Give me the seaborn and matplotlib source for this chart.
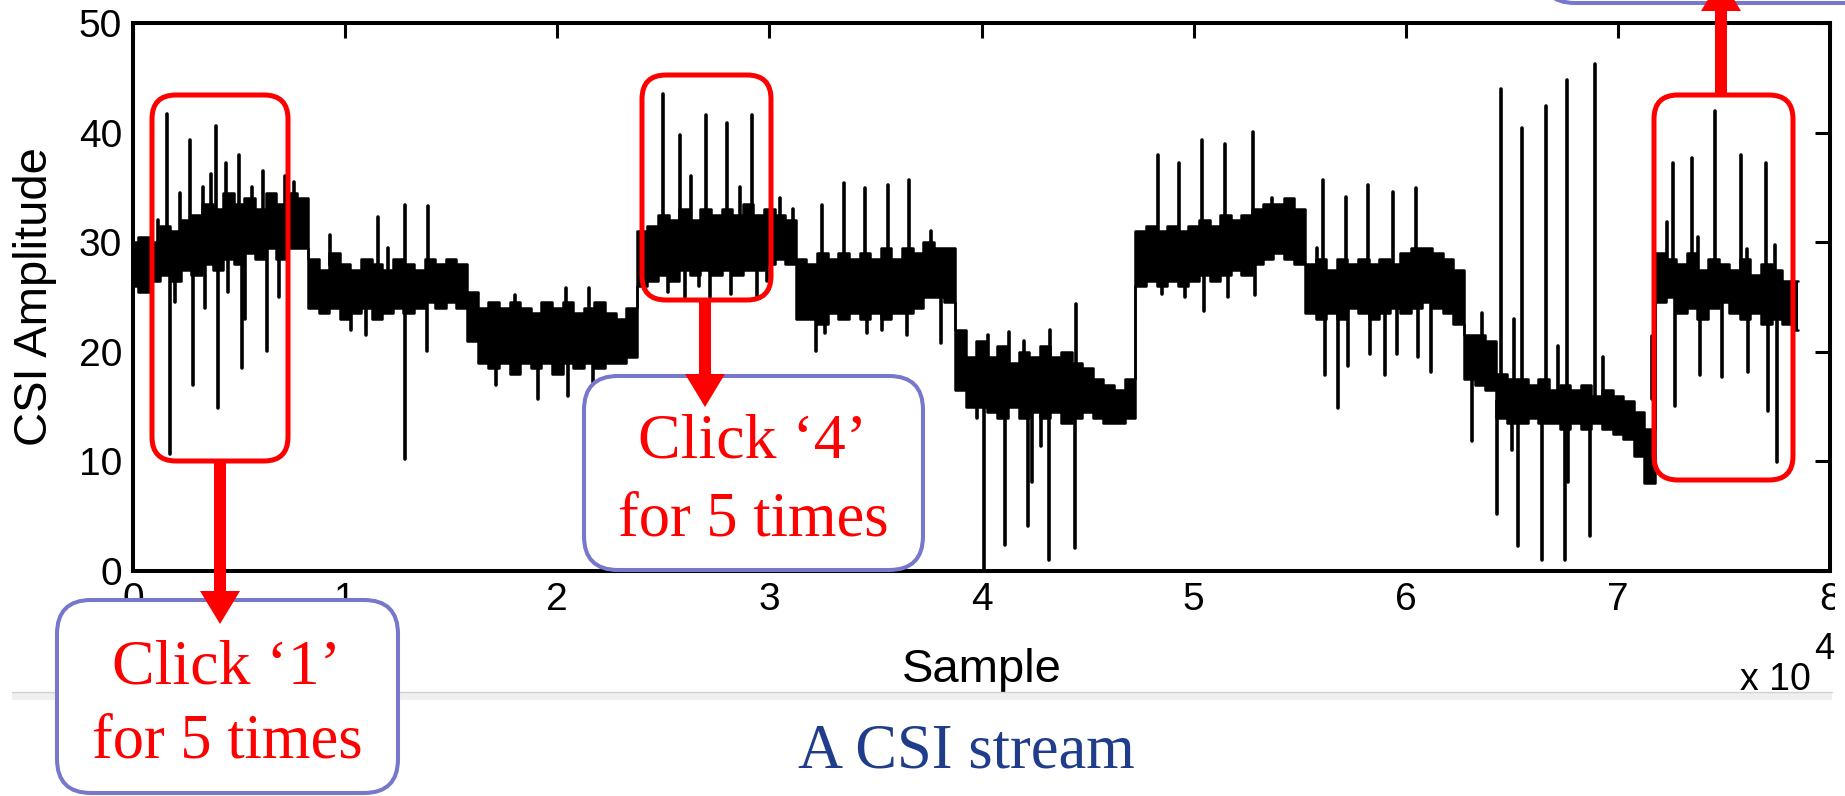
import numpy as np
import pandas as pd
import matplotlib
matplotlib.use("Agg")
import matplotlib.pyplot as plt
import seaborn as sns
from matplotlib.patches import FancyBboxPatch, FancyArrow, Rectangle

# ---------------- data ----------------
# band envelope of the CSI stream, one reading every 500 samples (0 .. 78500)
band_low = [26.0, 25.5, 26.5, 27.0, 26.5, 27.5, 27.0, 28.0, 27.5, 28.5, 28.0, 29.0, 28.5, 29.5, 28.5, 29.5,
            29.5, 24.0, 23.5, 24.0, 23.0, 23.5, 24.0, 23.0, 23.5, 24.0, 23.5, 24.0, 24.5, 24.0, 24.5, 24.0,
            21.0, 19.0, 18.5, 19.0, 18.0, 19.0, 18.5, 19.0, 18.0, 19.0, 18.5, 19.0, 18.5, 19.0, 19.0, 19.5,
            26.0, 26.5, 27.0, 26.5, 27.5, 27.0, 27.5, 27.0, 27.5, 27.0, 27.5, 27.5, 28.0, 28.5, 28.0, 23.0,
            23.0, 22.5, 23.5, 23.0, 23.5, 23.0, 23.5, 23.0, 23.5, 23.5, 24.0, 25.0, 25.0, 24.5, 16.5, 15.0,
            15.0, 14.5, 14.0, 15.0, 14.0, 14.5, 14.0, 14.5, 13.5, 14.0, 14.5, 14.0, 13.5, 13.5, 14.0, 26.0,
            26.5, 26.0, 26.5, 26.0, 26.5, 27.0, 26.5, 27.0, 27.5, 27.0, 28.0, 28.5, 29.0, 28.5, 28.0, 23.5,
            23.0, 23.5, 23.0, 24.0, 23.5, 23.0, 23.5, 24.0, 23.5, 24.0, 24.5, 24.0, 23.5, 22.5, 17.5, 17.0,
            16.5, 14.0, 13.5, 13.5, 14.0, 13.5, 13.5, 13.0, 13.5, 13.0, 13.5, 13.0, 12.5, 12.0, 10.5, 8.0,
            24.5, 25.0, 23.5, 24.0, 23.0, 24.0, 24.5, 23.5, 23.0, 23.5, 22.5, 23.0, 22.5, 22.0]
band_high = [30.0, 30.5, 30.0, 31.5, 31.0, 32.0, 32.5, 33.5, 33.0, 34.5, 33.5, 34.0, 33.0, 34.5, 33.5, 34.5,
             34.0, 28.5, 27.5, 29.0, 28.0, 27.5, 28.5, 28.0, 27.5, 28.5, 28.0, 27.5, 28.5, 28.0, 28.5, 28.0,
             25.5, 24.0, 24.5, 24.0, 24.5, 24.0, 23.5, 24.5, 24.0, 24.5, 23.5, 24.0, 24.5, 23.5, 23.0, 24.0,
             31.0, 31.5, 32.5, 32.0, 33.0, 32.0, 33.0, 32.5, 33.0, 32.5, 33.5, 32.5, 33.0, 32.5, 32.0, 28.5,
             28.0, 29.0, 28.5, 29.0, 28.5, 29.0, 28.5, 29.5, 28.5, 29.5, 29.0, 30.0, 29.5, 29.5, 22.0, 19.5,
             21.0, 19.5, 20.5, 19.0, 20.0, 19.5, 20.5, 19.5, 20.0, 19.0, 18.5, 17.5, 17.0, 16.5, 17.5, 31.0,
             31.5, 31.0, 31.5, 31.0, 31.5, 32.0, 31.5, 32.5, 32.0, 32.5, 33.0, 33.5, 33.5, 34.0, 33.0, 28.0,
             28.5, 27.5, 28.5, 28.0, 28.5, 28.0, 28.5, 28.0, 29.0, 29.5, 29.5, 29.0, 28.5, 27.5, 21.5, 21.5,
             21.0, 18.0, 17.5, 17.5, 17.0, 17.5, 16.5, 17.0, 16.5, 17.0, 16.0, 16.5, 16.0, 15.5, 14.5, 13.0,
             29.0, 28.5, 28.0, 29.0, 27.5, 28.5, 28.0, 27.5, 28.5, 27.0, 28.0, 27.5, 26.5, 26.5]
sample_x = list(range(0, 79000, 500))

# isolated spikes (sample index, extreme amplitude)
spike_x = [1200, 1600, 2200, 2700, 3300, 3700, 3900, 4400, 5000, 5600, 6150, 7150, 7600,
           1750, 2000, 2850, 3400, 4020, 4500, 5130, 5300, 6300, 6900,
           9300, 11550, 12000, 12800, 12830, 13900, 13850, 10300, 11000,
           17100, 19100, 20500, 21700, 18000, 20400, 21500,
           25000, 25800, 26300, 27000, 28000, 28600, 29200,
           25200, 26000, 26700, 27200, 28200, 29400, 29900,
           30500, 31100, 32500, 33500, 34500, 35600, 36600, 37600,
           32200, 32600, 34600, 35300, 36500, 38100,
           40100, 41100, 42200, 42400, 42800, 43200, 44400, 39800,
           43250, 44450, 40300, 41300, 42000,
           48300, 49300, 50400, 51500, 52800, 53700,
           48500, 49600, 50500, 51600, 52900,
           56100, 57200, 58200, 59400, 60500, 55800,
           56200, 56800, 57300, 58300, 59000, 59600, 60600, 61200,
           63100, 64300, 65300, 66400, 67500, 68700, 67650, 65000,
           64500, 65500, 66600, 67600, 68900, 65100, 63600, 69300, 67200,
           71600, 72300, 72600, 73500, 73800, 74600, 75800, 76100, 77000, 77400,
           72700, 73850, 74900, 76150, 77100, 77500]
spike_y = [32.0, 41.7, 34.5, 39.3, 35.0, 36.2, 40.6, 37.2, 38.0, 35.0, 36.5, 36.0, 35.5,
           10.7, 24.5, 17.0, 24.0, 14.9, 25.5, 18.5, 23.0, 20.1, 25.0,
           30.7, 32.3, 29.5, 33.4, 10.2, 33.3, 20.1, 22.0, 21.5,
           17.0, 15.7, 16.0, 17.2, 25.2, 25.8, 25.8,
           43.5, 39.8, 36.0, 41.6, 40.9, 35.0, 41.6,
           25.5, 25.0, 26.0, 25.0, 25.3, 25.0, 26.5,
           34.0, 33.0, 33.4, 35.4, 34.9, 35.2, 35.7, 31.0,
           20.1, 21.7, 21.7, 22.0, 21.5, 20.8,
           0.0, 2.4, 4.1, 8.1, 11.4, 1.0, 2.1, 14.0,
           22.0, 24.4, 21.5, 21.8, 21.0,
           38.0, 37.2, 39.3, 39.0, 40.1, 34.0,
           25.3, 25.0, 23.7, 25.0, 25.2,
           35.7, 34.1, 35.2, 34.6, 34.9, 29.5,
           17.9, 14.9, 18.7, 19.8, 17.9, 19.8, 19.5, 18.2,
           11.9, 5.2, 2.3, 1.0, 1.0, 3.2, 8.1, 11.0,
           44.0, 40.4, 42.4, 44.8, 46.3, 23.0, 23.5, 19.5, 20.5,
           21.4, 31.8, 37.2, 37.7, 30.5, 42.0, 38.0, 29.4, 37.2, 29.7,
           15.1, 17.9, 17.7, 18.2, 14.6, 9.9]

x_ticks = [0, 10000, 20000, 30000, 40000, 50000, 60000, 70000, 80000]
x_tick_labels = ["0", "1", "2", "3", "4", "5", "6", "7", "8"]
y_ticks = [0, 10, 20, 30, 40, 50]
y_tick_labels = ["0", "10", "20", "30", "40", "50"]

# ---------------- figure ----------------
sns.set_theme(style="white")
plt.rcParams["font.family"] = ["Liberation Sans", "DejaVu Sans"]

W, H = 1845, 796
fig = plt.figure(figsize=(W / 100, H / 100), dpi=100)
fig.patch.set_facecolor("white")
ax = fig.add_axes([133 / W, (H - 571) / H, (1830 - 133) / W, (571 - 23) / H])
ax.set_facecolor("white")

# band body
ax.fill_between(sample_x, band_low, band_high, step="mid", color="black", lw=0, zorder=2)
edges = pd.DataFrame({
    "x": sample_x * 2,
    "y": band_low + band_high,
    "edge": ["low"] * len(sample_x) + ["high"] * len(sample_x),
})
sns.lineplot(data=edges, x="x", y="y", units="edge", estimator=None, color="black",
             lw=1.8, drawstyle="steps-mid", ax=ax, legend=False, zorder=3)

# spikes: vertical strokes from the band edge to the extreme value
lo_i = np.interp(spike_x, sample_x, band_low)
hi_i = np.interp(spike_x, sample_x, band_high)
rows = []
for i, (sx, sy) in enumerate(zip(spike_x, spike_y)):
    base = hi_i[i] - 0.5 if sy > hi_i[i] else lo_i[i] + 0.5
    rows.append((sx, base, i))
    rows.append((sx, sy, i))
spk = pd.DataFrame(rows, columns=["x", "y", "sid"])
sns.lineplot(data=spk, x="x", y="y", units="sid", estimator=None, sort=False,
             color="black", lw=2.6, ax=ax, legend=False, zorder=3)

ax.set_xlim(0, 80000)
ax.set_ylim(0, 50)
ax.set_xticks(x_ticks)
ax.set_xticklabels(x_tick_labels)
ax.set_yticks(y_ticks)
ax.set_yticklabels(y_tick_labels)
ax.tick_params(direction="in", length=11, width=2.2, top=True, right=True,
               labelsize=28, pad=8, colors="black")
for s in ax.spines.values():
    s.set_visible(True)
    s.set_color("black")
    s.set_linewidth(2.9)
ax.grid(False)
ax.set_xlabel("Sample", fontsize=34, color="black")
ax.set_ylabel("CSI Amplitude", fontsize=34, color="black")
ax.xaxis.set_label_coords(0.5, -0.14)
ax.yaxis.set_label_coords(-0.045, 0.5)

# ---------------- overlay (pixel coordinates) ----------------
ov = fig.add_axes([0, 0, 1, 1], zorder=10)
ov.set_xlim(0, W)
ov.set_ylim(H, 0)
ov.axis("off")
ov.patch.set_alpha(0)

# separator strip under the chart
ov.add_patch(Rectangle((12, 692), 1820, 8, fc="#efefef", ec="none", zorder=1))
ov.plot([12, 1832], [692, 692], color="#d2d2d2", lw=1, zorder=1)
# right edge of the screenshot crops the last tick label
ov.add_patch(Rectangle((1835, 575), 12, 120, fc="white", ec="none", zorder=1))

ov.text(1740, 690, "x 10", ha="left", va="baseline", fontsize=27, color="black", zorder=2)
ov.text(1814, 659, "4", ha="left", va="baseline", fontsize=26, color="black", zorder=2)

red = "#ff0000"
blue_edge = "#7777cc"
serif = ["Liberation Serif", "DejaVu Serif"]

# red highlight boxes
for (x0, y0, x1, y1) in [(152, 95, 288, 461), (642, 75, 771, 300), (1654, 95, 1793, 480)]:
    ov.add_patch(FancyBboxPatch((x0, y0), x1 - x0, y1 - y0,
                                boxstyle="round,pad=0,rounding_size=24",
                                ec=red, fc="none", lw=3.6, zorder=4))

# blue label boxes
for (x0, y0, x1, y1) in [(57, 600, 398, 793), (584, 376, 923, 570), (1541, -200, 1900, 3)]:
    ov.add_patch(FancyBboxPatch((x0, y0), x1 - x0, y1 - y0,
                                boxstyle="round,pad=0,rounding_size=34",
                                ec=blue_edge, fc="white", lw=2.9, zorder=5))

# red arrows
for (x, y0, y1) in [(220, 461, 624), (705, 300, 407), (1721, 95, -22)]:
    ov.add_patch(FancyArrow(x, y0, 0, y1 - y0, width=12, head_width=40, head_length=33,
                            length_includes_head=True, color=red, lw=0, zorder=6))

# labels in the blue boxes
ov.text(227, 683, "Click \u20181\u2019", ha="center", va="baseline", fontsize=46,
        color=red, family=serif, zorder=7)
ov.text(227, 758, "for 5 times", ha="center", va="baseline", fontsize=45,
        color=red, family=serif, zorder=7)
ov.text(753, 458, "Click \u20184\u2019", ha="center", va="baseline", fontsize=46,
        color=red, family=serif, zorder=7)
ov.text(753, 535, "for 5 times", ha="center", va="baseline", fontsize=45,
        color=red, family=serif, zorder=7)

# caption
ov.text(966, 767, "A CSI stream", ha="center", va="baseline", fontsize=45,
        color="#1f3d8a", family=serif, zorder=7)

fig.savefig("out.png", dpi=100, facecolor="white")
